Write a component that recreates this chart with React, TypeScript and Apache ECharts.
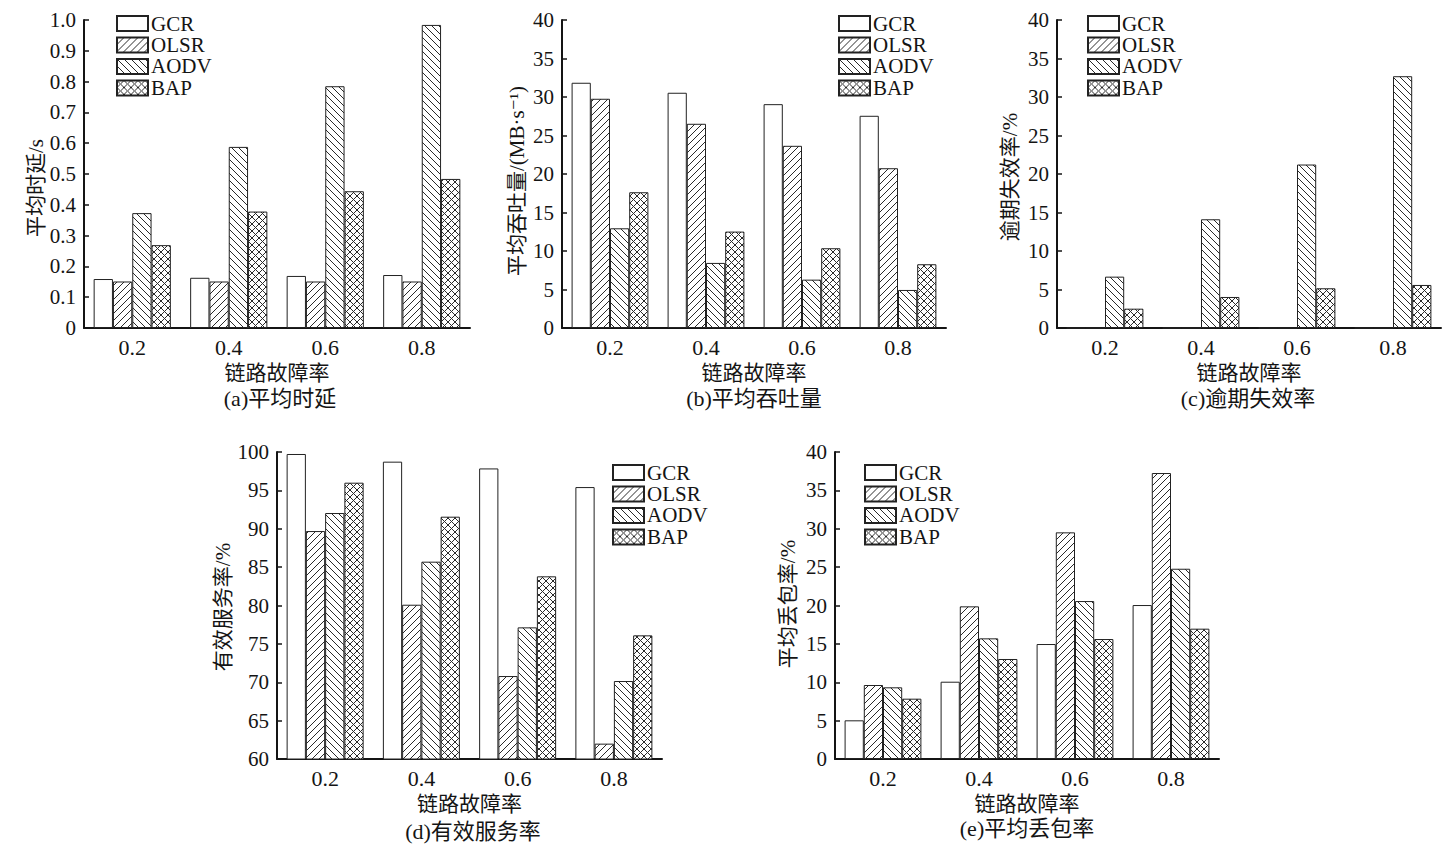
import React, { useEffect, useRef } from 'react';
import * as echarts from 'echarts';

const categories = ['0.2', '0.4', '0.6', '0.8'];
const seriesNames = ['GCR', 'OLSR', 'AODV', 'BAP'];

// (a) average delay / s
const delayGCR = [0.159, 0.163, 0.169, 0.172];
const delayOLSR = [0.151, 0.151, 0.151, 0.151];
const delayAODV = [0.373, 0.588, 0.785, 0.984];
const delayBAP = [0.269, 0.378, 0.444, 0.484];

// (b) average throughput / (MB·s-1)
const thrGCR = [31.85, 30.55, 29.07, 27.56];
const thrOLSR = [29.77, 26.52, 23.66, 20.75];
const thrAODV = [12.95, 8.45, 6.28, 4.94];
const thrBAP = [17.63, 12.52, 10.36, 8.28];

// (c) expired failure rate / %
const expGCR = [0, 0, 0, 0];
const expOLSR = [0, 0, 0, 0];
const expAODV = [6.67, 14.12, 21.23, 32.7];
const expBAP = [2.51, 4.03, 5.16, 5.59];

// (d) effective service rate / %
const svcGCR = [99.74, 98.74, 97.86, 95.43];
const svcOLSR = [89.7, 80.1, 70.81, 62.0];
const svcAODV = [92.05, 85.71, 77.15, 70.16];
const svcBAP = [96.0, 91.57, 83.8, 76.11];

// (e) average packet loss rate / %
const lossGCR = [5.04, 10.07, 14.98, 20.06];
const lossOLSR = [9.64, 19.89, 29.53, 37.26];
const lossAODV = [9.34, 15.72, 20.58, 24.79];
const lossBAP = [7.86, 13.03, 15.63, 16.98];

const panelData = [
  [delayGCR, delayOLSR, delayAODV, delayBAP],
  [thrGCR, thrOLSR, thrAODV, thrBAP],
  [expGCR, expOLSR, expAODV, expBAP],
  [svcGCR, svcOLSR, svcAODV, svcBAP],
  [lossGCR, lossOLSR, lossAODV, lossBAP],
];

const yNames = ['平均时延/s', '平均吞吐量/(MB·s⁻¹)', '逾期失效率/%', '有效服务率/%', '平均丢包率/%'];
const captions = ['(a)平均时延', '(b)平均吞吐量', '(c)逾期失效率', '(d)有效服务率', '(e)平均丢包率'];
const xName = '链路故障率';
const yMin = [0, 0, 0, 60, 0];
const yMax = [1.0, 40, 40, 100, 40];
const yStep = [0.1, 5, 5, 5, 5];

// layout
const grids = [
  { left: 84, top: 20, width: 386, height: 308 },
  { left: 562, top: 20, width: 384, height: 308 },
  { left: 1057, top: 20, width: 384, height: 308 },
  { left: 277, top: 452, width: 385, height: 307 },
  { left: 835, top: 452, width: 384, height: 307 },
];
const legendPos = [
  { left: 116, top: 13 },
  { left: 838, top: 13 },
  { left: 1087, top: 13 },
  { left: 612, top: 462 },
  { left: 864, top: 462 },
];
const yNamePos = [
  { x: 36, y: 188 },
  { x: 517, y: 181 },
  { x: 1010, y: 177 },
  { x: 223, y: 607 },
  { x: 788, y: 604 },
];
const captionPos = [
  { x: 280, y: 398 },
  { x: 754, y: 398 },
  { x: 1248, y: 398 },
  { x: 473, y: 831 },
  { x: 1027, y: 828 },
];

const FONT = '"Liberation Serif", "DejaVu Serif", "Noto Sans CJK SC", serif';
const INK = '#141414';

function makeHatch(kind: string) {
  const s = 7;
  const c = document.createElement('canvas');
  c.width = s;
  c.height = s;
  const ctx = c.getContext('2d') as CanvasRenderingContext2D;
  ctx.fillStyle = '#ffffff';
  ctx.fillRect(0, 0, s, s);
  ctx.strokeStyle = '#2a2a2a';
  ctx.lineWidth = 1;
  const fwd = () => {
    ctx.beginPath();
    ctx.moveTo(-1, s + 1);
    ctx.lineTo(s + 1, -1);
    ctx.moveTo(-1, 1);
    ctx.lineTo(1, -1);
    ctx.moveTo(s - 1, s + 1);
    ctx.lineTo(s + 1, s - 1);
    ctx.stroke();
  };
  const back = () => {
    ctx.beginPath();
    ctx.moveTo(-1, -1);
    ctx.lineTo(s + 1, s + 1);
    ctx.moveTo(s - 1, -1);
    ctx.lineTo(s + 1, 1);
    ctx.moveTo(-1, s - 1);
    ctx.lineTo(1, s + 1);
    ctx.stroke();
  };
  if (kind === 'fwd' || kind === 'cross') fwd();
  if (kind === 'back' || kind === 'cross') back();
  return { image: c, repeat: 'repeat', imageWidth: s, imageHeight: s };
}

export default function App() {
  const ref = useRef<HTMLDivElement>(null);
  useEffect(() => {
    if (!ref.current) return;
    const chart = echarts.init(ref.current, undefined, { renderer: 'svg' });
    const fills: any[] = ['#ffffff', makeHatch('fwd'), makeHatch('back'), makeHatch('cross')];

    const xAxis: any[] = [];
    const yAxis: any[] = [];
    const series: any[] = [];
    const legend: any[] = [];
    const graphic: any[] = [];

    grids.forEach((g, i) => {
      xAxis.push({
        type: 'category',
        gridIndex: i,
        data: categories,
        axisTick: { show: false },
        axisLine: { lineStyle: { color: INK, width: 2 } },
        axisLabel: { fontSize: 22, color: INK, margin: 8, fontFamily: FONT },
        name: xName,
        nameLocation: 'middle',
        nameGap: 34,
        nameTextStyle: { fontSize: 21, color: INK, fontFamily: FONT },
      });
      yAxis.push({
        type: 'value',
        gridIndex: i,
        min: yMin[i],
        max: yMax[i],
        interval: yStep[i],
        axisLine: { show: true, lineStyle: { color: INK, width: 2 } },
        axisTick: { show: true, inside: true, length: 5, lineStyle: { color: INK, width: 1.5 } },
        splitLine: { show: false },
        axisLabel: {
          fontSize: 21,
          color: INK,
          margin: 8,
          fontFamily: FONT,
          formatter: (v: number) => (i === 0 ? (v === 0 ? '0' : v.toFixed(1)) : String(Math.round(v))),
        },
      });
      seriesNames.forEach((n, k) => {
        series.push({
          type: 'bar',
          name: n,
          xAxisIndex: i,
          yAxisIndex: i,
          data: panelData[i][k],
          barGap: '0%',
          barCategoryGap: '20%',
          itemStyle: { color: fills[k], borderColor: '#222', borderWidth: 1 },
        });
      });
      legend.push({
        orient: 'vertical',
        left: legendPos[i].left,
        top: legendPos[i].top,
        data: seriesNames,
        icon: 'rect',
        itemWidth: 31,
        itemHeight: 15,
        itemGap: 0.5,
        selectedMode: false,
        padding: 0,
        textStyle: { fontSize: 21, color: INK, fontFamily: FONT, padding: [0, 0, 0, -2] },
      });
      graphic.push({
        type: 'text',
        x: yNamePos[i].x,
        y: yNamePos[i].y,
        rotation: Math.PI / 2,
        style: { text: yNames[i], fill: INK, fontSize: 21, fontFamily: FONT, align: 'center', verticalAlign: 'middle' },
      });
      graphic.push({
        type: 'text',
        x: captionPos[i].x,
        y: captionPos[i].y,
        style: { text: captions[i], fill: INK, fontSize: 22, fontFamily: FONT, align: 'center', verticalAlign: 'middle' },
      });
    });

    chart.setOption({
      animation: false,
      backgroundColor: '#ffffff',
      grid: grids.map((g) => ({ ...g, containLabel: false })),
      xAxis,
      yAxis,
      series,
      legend,
      graphic,
    });
    return () => chart.dispose();
  }, []);
  return <div ref={ref} style={{ position: 'fixed', left: 0, top: 0, width: 1449, height: 853 }} />;
}
